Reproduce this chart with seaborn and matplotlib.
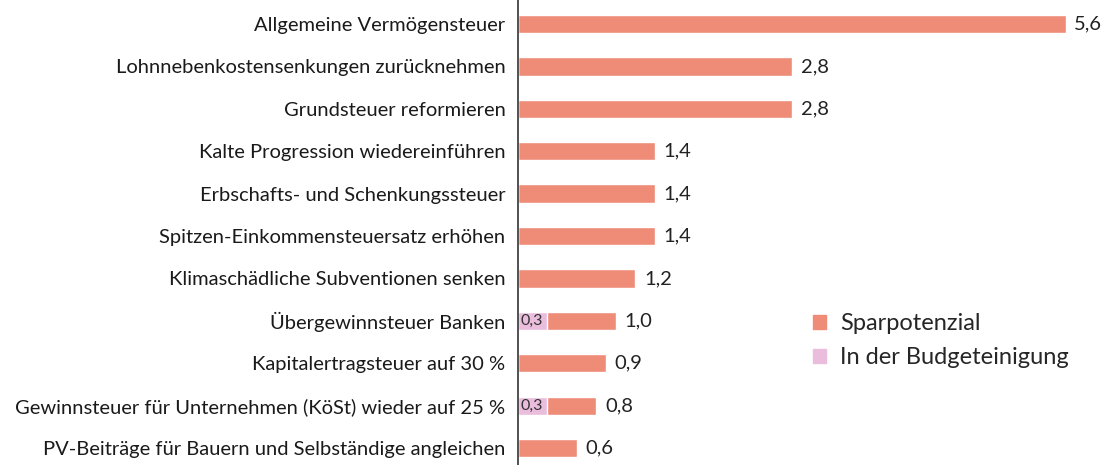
import seaborn as sns
import numpy as np
import pandas as pd
import matplotlib.pyplot as plt
from matplotlib.patches import Patch

measures = [
    "Allgemeine Vermögensteuer",
    "Lohnnebenkostensenkungen zurücknehmen",
    "Grundsteuer reformieren",
    "Kalte Progression wiedereinführen",
    "Erbschafts- und Schenkungssteuer",
    "Spitzen-Einkommensteuersatz erhöhen",
    "Klimaschädliche Subventionen senken",
    "Übergewinnsteuer Banken",
    "Kapitalertragsteuer auf 30 %",
    "Gewinnsteuer für Unternehmen (KöSt) wieder auf 25 %",
    "PV-Beiträge für Bauern und Selbständige angleichen",
]
savings = [5.6, 2.8, 2.8, 1.4, 1.4, 1.4, 1.2, 1.0, 0.9, 0.8, 0.6]
in_budget = [0, 0, 0, 0, 0, 0, 0, 0.3, 0, 0.3, 0]

salmon = "#EE8C78"
pink = "#EBBDDD"

sns.set_theme(style="white")
plt.rcParams["font.family"] = ["Lato", "DejaVu Sans"]

df = pd.DataFrame({"measure": measures, "savings": savings, "budget": in_budget})

fig = plt.figure(figsize=(11.1, 4.65), dpi=100)
ax = fig.add_axes([0.4667, 0.0, 0.525, 1.0])

sns.barplot(data=df, y="measure", x="savings", color=salmon, width=0.43,
            saturation=1, ax=ax, orient="h")
sns.barplot(data=df, y="measure", x="budget", color=pink, width=0.43,
            saturation=1, ax=ax, orient="h")

fmt = lambda v: f"{v:.1f}".replace(".", ",")
for i, (s, b) in enumerate(zip(savings, in_budget)):
    ax.text(s + 0.09, i, fmt(s), va="center", ha="left", fontsize=14.5, color="#222222")
    if b > 0:
        ax.text(0.03, i, fmt(b), va="center", ha="left", fontsize=11.5, color="#333333")

ax.set_xlim(0, 5.96)
ax.set_ylim(10.40, -0.566)
ax.set_xlabel("")
ax.set_ylabel("")
ax.set_xticks([])
ax.tick_params(axis="y", length=0, pad=9, labelsize=14.5, labelcolor="#1a1a1a")
for side in ["top", "right", "bottom"]:
    ax.spines[side].set_visible(False)
ax.spines["left"].set_color("#333333")
ax.spines["left"].set_linewidth(1.2)

handles = [Patch(color=salmon, label="Sparpotenzial"),
           Patch(color=pink, label="In der Budgeteinigung")]
ax.legend(handles=handles, loc="upper left", bbox_to_anchor=(0.469, 0.372),
          frameon=False, fontsize=17, handlelength=0.55, handleheight=0.55,
          handletextpad=0.6, labelspacing=0.55)

fig.savefig("out.png", dpi=100)
